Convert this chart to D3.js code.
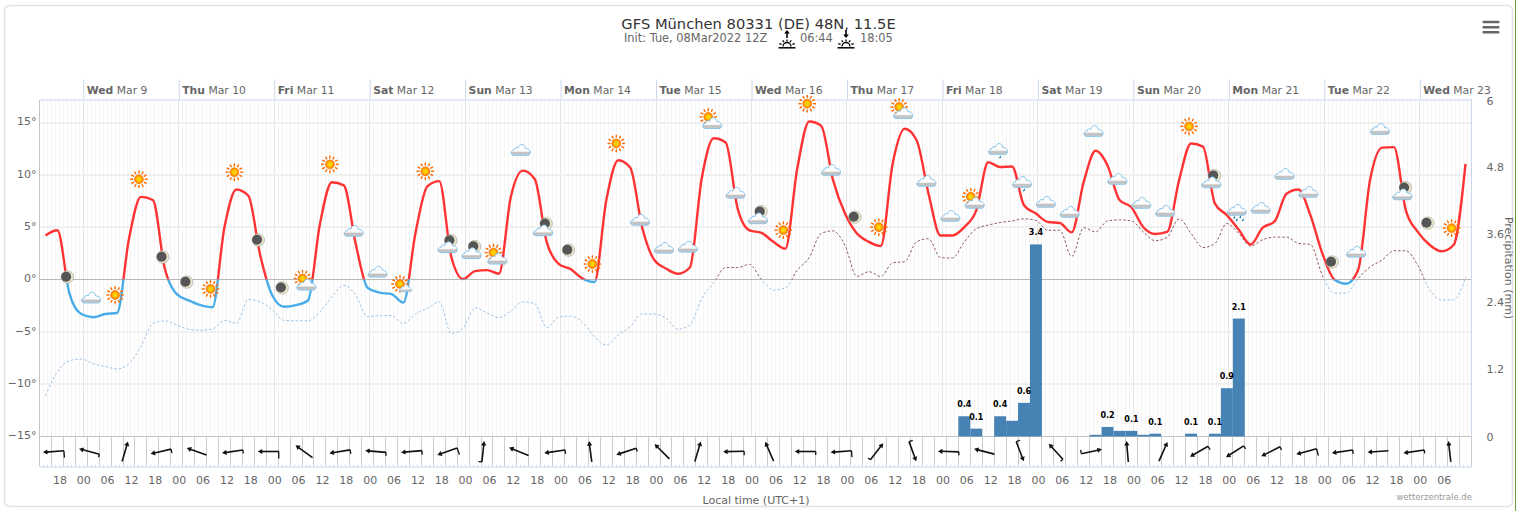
<!DOCTYPE html>
<html>
<head>
<meta charset="utf-8">
<title>GFS München</title>
<script src="https://cdn.jsdelivr.net/npm/d3@7"></script>
<style>
  html, body { margin: 0; padding: 0; background: #fff; }
  svg { display: block; }
  text { font-family: "DejaVu Sans", sans-serif; }
</style>
</head>
<body>
<div id="chart"></div>
<script>
// values, one per 3h step, first step is Mar 8 14:30
const firstHour = -9.5;
const stepHours = 3;

const temperature = [
  4.2, 4.7, -1.3, -3.3, -3.6, -3.3, -3.2, 3.9, 7.9, 7.6,
  1.05, -1.4, -2.0, -2.45, -2.65, 5.0, 8.6, 8.0, 2.3, -1.5,
  -2.6, -2.45, -2.0, 5.3, 9.3, 9.0, 3.4, -0.8, -1.25, -1.4,
  -2.2, 4.4, 8.9, 9.4, 2.2, 0.05, 0.8, 0.9, 0.55, 7.9,
  10.4, 9.6, 3.6, 1.5, 1.0, 0.1, -0.25, 7.6, 11.4, 10.7,
  5.0, 1.9, 1.05, 0.55, 1.15, 9.7, 13.5, 13.1, 6.8, 4.7,
  4.45, 3.6, 2.95, 10.6, 15.1, 14.7, 9.5, 6.3, 4.4, 3.6,
  3.2, 11.1, 14.4, 13.3, 8.2, 4.2, 4.2, 5.0, 6.6, 11.2,
  10.75, 10.8, 7.1, 6.3, 5.5, 5.4, 4.5, 9.3, 12.3, 10.9,
  7.6, 6.9, 5.0, 4.35, 4.55, 9.5, 13.0, 12.7, 7.25, 6.15,
  4.75, 3.35, 4.95, 5.55, 8.2, 8.6, 6.15, 2.5, 0, -0.4,
  0.9, 9.5, 12.6, 12.65, 6.6, 4.55, 3.3, 2.7, 3.3, 11.05
];

const dewPoint = [
  -11.1, -8.8, -7.75, -7.6, -8.05, -8.3, -8.55, -8.05, -6.4, -4.2,
  -3.95, -4.35, -4.75, -4.85, -4.75, -3.9, -4.2, -1.9, -2.15, -2.9,
  -3.9, -3.95, -3.95, -3.1, -1.65, -0.55, -1.5, -3.55, -3.45, -3.45,
  -4.2, -3.3, -2.75, -2.15, -5.15, -4.65, -2.7, -3.2, -3.65, -3.0,
  -2.15, -2.3, -4.6, -3.6, -3.5, -4.05, -5.45, -6.25, -5.3, -4.5,
  -3.3, -3.3, -3.7, -4.75, -4.35, -1.8, -0.3, 1.15, 1.15, 1.45,
  0, -1.0, -0.8, 0.9, 2.1, 4.4, 4.65, 3.25, 0.3, 0.75,
  0.3, 1.6, 1.7, 3.6, 3.9, 2.1, 2.05, 3.6, 4.85, 5.2,
  5.45, 5.6, 5.8, 5.65, 4.7, 4.7, 2.2, 4.95, 4.55, 5.6,
  5.7, 5.6, 4.55, 3.7, 4.05, 5.8, 4.4, 3.05, 3.45, 5.35,
  4.4, 3.2, 3.8, 4.05, 4.05, 3.45, 3.35, 0.4, -1.3, -1.3,
  0.1, 1.2, 1.85, 2.75, 2.75, 1.35, -1.0, -1.95, -1.95, 0.2
];

// precipitation in mm, only the steps that have some
const precipStep = [77, 78, 80, 81, 82, 83, 88, 89, 90, 91, 92, 93, 96, 98, 99, 100];
const precipValue = [0.36, 0.14, 0.36, 0.28, 0.6, 3.42, 0.03, 0.17, 0.1, 0.1, 0.03, 0.05, 0.05, 0.05, 0.86, 2.1];
const precipLabel = ["0.4", "0.1", "0.4", "", "0.6", "3.4", "", "0.2", "", "0.1", "", "0.1", "0.1", "0.1", "0.9", "2.1"];

// weather symbols every 6h, level is the temperature they hang at
const symbolFirstHour = -4;
const symbolStepHours = 6;
const symbolKind = [
  "moon", "cloud", "sun", "sun", "moon", "moon", "sun", "sun", "moon", "moon",
  "suncloud", "sun", "cloud", "cloud", "sunsmall", "sun", "mooncloud", "mooncloud", "suncloud", "cloud",
  "mooncloud", "moon", "sun", "sun", "cloud", "cloud", "cloud", "suncloud", "cloud", "mooncloud",
  "sun", "sun", "cloud", "moon", "sun", "suncloud", "cloud", "cloud", "suncloud", "drizzle",
  "drizzle", "cloud", "cloud", "cloud", "cloud", "cloud", "cloud", "sun", "mooncloud", "rain",
  "cloud", "cloud", "cloud", "moon", "cloud", "cloud", "mooncloud", "moon", "sun"
];
const symbolLevel = [
  0.24, -1.76, -1.48, 9.58, 2.14, -0.24, -0.9, 10.25, 3.77, -0.8,
  -0.24, 11.0, 4.62, 0.71, -0.52, 10.34, 3.29, 2.72, 2.24, 12.35,
  4.9, 2.81, 1.48, 13.0, 5.67, 3.0, 3.1, 15.2, 8.25, 6.05,
  4.72, 16.8, 10.44, 5.96, 5.0, 16.15, 9.39, 6.05, 7.58, 12.44,
  9.29, 7.39, 6.43, 14.16, 9.58, 7.29, 6.53, 14.63, 9.49, 6.53,
  6.82, 10.06, 8.34, 1.67, 2.62, 14.35, 8.34, 5.39, 4.91
];

// wind arrows every 9h, compass direction the arrow points to and barb length
const windFirstHour = -7.5;
const windStepHours = 9;
const windDirection = [
  265.5, 285, 16, 257, 290, 261.5, 270, 306, 261, 275,
  265, 250, 6, 292, 261.5, 352.5, 251.6, 315, 16.4, 269,
  336.7, 270, 265.5, 37.6, 160, 272, 284.5, 159, 317.6, 78,
  355, 23.7, 240, 237.6, 243, 255, 261.5, 266, 261.5, 353.5
];
const windBarb = [
  7, 3, 0, 4, 0, 3.5, 7, 0, 4, 3.5,
  4, 7, 3.5, 0, 4, 0, 3.5, 0, 0, 4,
  0, 3.5, 6.5, 3, 4, 3.5, 0, 4, 3, 4,
  0, 0, 4, 3.5, 3.5, 7, 4, 0, 3.5, 0
];

const dayTicks = [0, 24, 48, 72, 96, 120, 144, 168, 192, 216, 240, 264, 288, 312, 336];
const dayNames = ["Wed", "Thu", "Fri", "Sat", "Sun", "Mon", "Tue", "Wed", "Thu", "Fri", "Sat", "Sun", "Mon", "Tue", "Wed"];
const dayDates = ["Mar 9", "Mar 10", "Mar 11", "Mar 12", "Mar 13", "Mar 14", "Mar 15", "Mar 16", "Mar 17", "Mar 18", "Mar 19", "Mar 20", "Mar 21", "Mar 22", "Mar 23"];
const tempTicks = [15, 10, 5, 0, -5, -10, -15];
const precipTicks = [0, 1.2, 2.4, 3.6, 4.8, 6];

const width = 1516, height = 511;
const plot = {left: 39.5, right: 1471.5, top: 99.5, bottom: 436.5, windBottom: 466.5};

const x = d3.scaleLinear().domain([-11, 349]).range([plot.left, plot.right]);
const yTemp = d3.scaleLinear().domain([-15, 17.2]).range([plot.bottom, plot.top]);
const yPrecip = d3.scaleLinear().domain([0, 6]).range([plot.bottom, plot.top]);
const stepToX = i => x(firstHour + i * stepHours);

const svg = d3.select("#chart").append("svg")
  .attr("width", width)
  .attr("height", height);

const defs = svg.append("defs");

// frame
svg.append("rect").attr("x", 4.5).attr("y", 5.5).attr("width", 1508).attr("height", 501).attr("rx", 5)
  .attr("fill", "#fff").attr("stroke", "#e2e2e2").attr("stroke-width", 1.5);
svg.append("rect").attr("x", 1515).attr("y", 0).attr("width", 1).attr("height", height).attr("fill", "#6a9a3a");

// hamburger menu
[22, 27.3, 32.3].forEach(y => {
  svg.append("rect").attr("x", 1482.5).attr("y", y - 1.3).attr("width", 17).attr("height", 2.6).attr("rx", 1).attr("fill", "#666");
});

// title
svg.append("text").attr("x", 758.5).attr("y", 29).attr("text-anchor", "middle")
  .attr("font-size", 14.7).attr("fill", "#333").text("GFS München 80331 (DE) 48N, 11.5E");
svg.append("text").attr("x", 624).attr("y", 42).attr("font-size", 11.4).attr("fill", "#666").text("Init: Tue, 08Mar2022 12Z");
svg.append("text").attr("x", 800).attr("y", 42).attr("font-size", 11.4).attr("fill", "#666").text("06:44");
svg.append("text").attr("x", 860).attr("y", 42).attr("font-size", 11.4).attr("fill", "#666").text("18:05");

function sunriseIcon(cx, up) {
  const g = svg.append("g").attr("transform", `translate(${cx},48)`).attr("fill", "none").attr("stroke", "#000");
  g.append("path").attr("d", "M-8.5,-0.2H8.5").attr("stroke-width", 1.5);
  g.append("path").attr("d", "M-4,-1.5A4,4 0 0 1 4,-1.5").attr("stroke-width", 1.3);
  [-65, -30, 0, 30, 65].forEach(a => {
    const s = Math.sin(a * Math.PI / 180), c = Math.cos(a * Math.PI / 180);
    g.append("path").attr("d", `M${s * 6},${-1.5 - c * 5}L${s * 8.5},${-1.5 - c * 7}`).attr("stroke-width", 1.3);
  });
  g.append("path").attr("d", up ? "M0,-10V-15" : "M0,-18V-13").attr("stroke-width", 1.6);
  g.append("path").attr("d", up ? "M-2.8,-14.5L0,-18L2.8,-14.5Z" : "M-2.8,-13.5L0,-10L2.8,-13.5Z").attr("fill", "#000").attr("stroke", "none");
}
sunriseIcon(787, true);
sunriseIcon(846, false);

// grid
const grid = svg.append("g").attr("shape-rendering", "crispEdges");
grid.selectAll(".minor").data(d3.range(-11, 350)).enter().append("line")
  .attr("x1", d => x(d)).attr("x2", d => x(d))
  .attr("y1", plot.top).attr("y2", plot.bottom)
  .attr("stroke", "#f4f4f4");
grid.selectAll(".major").data(dayTicks).enter().append("line")
  .attr("x1", d => x(d)).attr("x2", d => x(d))
  .attr("y1", plot.top).attr("y2", plot.bottom)
  .attr("stroke", "#e4e4e4");
grid.selectAll(".horizontal").data(tempTicks.filter(d => d !== 0 && d !== -15)).enter().append("line")
  .attr("x1", plot.left).attr("x2", plot.right)
  .attr("y1", d => yTemp(d)).attr("y2", d => yTemp(d))
  .attr("stroke", "#f0f0f0").attr("stroke-width", 2);
grid.append("line").attr("x1", plot.left).attr("x2", plot.right)
  .attr("y1", yTemp(0)).attr("y2", yTemp(0)).attr("stroke", "#b8b8b8");

// wind pane lines
grid.selectAll(".wind").data(d3.range(-11, 350, 3)).enter().append("line")
  .attr("x1", d => x(d)).attr("x2", d => x(d))
  .attr("y1", plot.bottom).attr("y2", plot.windBottom)
  .attr("stroke", "#cccccc");
grid.append("line").attr("x1", plot.left).attr("x2", plot.right)
  .attr("y1", plot.bottom).attr("y2", plot.bottom).attr("stroke", "#c4c4c4");
grid.append("line").attr("x1", plot.left).attr("x2", plot.left)
  .attr("y1", plot.top).attr("y2", plot.windBottom).attr("stroke", "#c4c4c4");
grid.append("line").attr("x1", plot.right).attr("x2", plot.right)
  .attr("y1", plot.top).attr("y2", plot.bottom).attr("stroke", "#ccd6eb");

// bottom axis, labels every 6h and a small tick every hour
const hourLabels = d3.range(-6, 343, 6);
const axisBottom = d3.axisBottom(x).tickValues(hourLabels).tickSize(0).tickPadding(10)
  .tickFormat(d => String(((d % 24) + 24) % 24).padStart(2, "0"));
const axisB = svg.append("g").attr("transform", `translate(0,${plot.windBottom})`).call(axisBottom);
axisB.select(".domain").attr("stroke", "#ccd6eb");
axisB.selectAll("text").attr("font-size", 11).attr("fill", "#666").attr("font-family", null);
grid.selectAll(".hour").data(d3.range(-11, 350)).enter().append("line")
  .attr("x1", d => x(d)).attr("x2", d => x(d))
  .attr("y1", plot.windBottom - 2).attr("y2", plot.windBottom)
  .attr("stroke", "#ccd6eb");

// top axis with the days
const axisTop = d3.axisTop(x).tickValues(dayTicks).tickSizeInner(20).tickSizeOuter(0).tickFormat("");
const axisT = svg.append("g").attr("transform", `translate(0,${plot.top})`).call(axisTop);
axisT.select(".domain").attr("stroke", "#ccd6eb");
axisT.selectAll("line").attr("stroke", "#ccd6eb");
const dayText = svg.selectAll(".day").data(dayTicks).enter().append("text")
  .attr("x", d => x(d) + 3.5).attr("y", 94)
  .attr("font-size", 10.8).attr("fill", "#666");
dayText.append("tspan").attr("font-weight", "bold").text((d, i) => dayNames[i]);
dayText.append("tspan").text((d, i) => " " + dayDates[i]);

// y axes
const axisL = svg.append("g").attr("transform", `translate(${plot.left},0)`)
  .call(d3.axisLeft(yTemp).tickValues(tempTicks).tickSize(0).tickPadding(3)
    .tickFormat(d => (d < 0 ? "\u2212" + (-d) : d) + "\u00b0"));
axisL.select(".domain").remove();
axisL.selectAll("text").attr("font-size", 11).attr("fill", "#666").attr("font-family", null).attr("dy", "0.2em");

const axisR = svg.append("g").attr("transform", `translate(${plot.right},0)`)
  .call(d3.axisRight(yPrecip).tickValues(precipTicks).tickSize(0).tickPadding(15)
    .tickFormat(d => String(d)));
axisR.select(".domain").remove();
axisR.selectAll("text").attr("font-size", 11).attr("fill", "#666").attr("font-family", null);
axisR.selectAll("text").filter(d => d === 6).attr("dy", "0.45em");

svg.append("text").attr("transform", "translate(1505,268) rotate(90)").attr("text-anchor", "middle")
  .attr("font-size", 11).attr("fill", "#666").text("Precipitation (mm)");
svg.append("text").attr("x", 756).attr("y", 504).attr("text-anchor", "middle")
  .attr("font-size", 11).attr("fill", "#666").text("Local time (UTC+1)");
svg.append("text").attr("x", 1472).attr("y", 500).attr("text-anchor", "end")
  .attr("font-size", 8.5).attr("fill", "#999").text("wetterzentrale.de");

// precipitation bars
const barWidth = x(stepHours) - x(0);
svg.append("g").selectAll("rect").data(precipStep).enter().append("rect")
  .attr("x", d => stepToX(d) - barWidth / 2)
  .attr("width", barWidth)
  .attr("y", (d, i) => yPrecip(precipValue[i]))
  .attr("height", (d, i) => plot.bottom - yPrecip(precipValue[i]))
  .attr("fill", "#4682b4");

// clip above and below zero so the lines change colour there
defs.append("clipPath").attr("id", "above").append("rect")
  .attr("x", 0).attr("y", 0).attr("width", width).attr("height", yTemp(0));
defs.append("clipPath").attr("id", "below").append("rect")
  .attr("x", 0).attr("y", yTemp(0)).attr("width", width).attr("height", height);

const line = d3.line()
  .x((d, i) => stepToX(i))
  .y(d => yTemp(d))
  .curve(d3.curveMonotoneX);

function drawSeries(values, above, below, strokeWidth, dash) {
  [["above", above], ["below", below]].forEach(([clip, color]) => {
    svg.append("path").datum(values)
      .attr("d", line)
      .attr("fill", "none")
      .attr("stroke", color)
      .attr("stroke-width", strokeWidth)
      .attr("stroke-dasharray", dash)
      .attr("stroke-linejoin", "round")
      .attr("clip-path", `url(#${clip})`);
  });
}
drawSeries(dewPoint, "#8f5a5a", "#9cc0e6", 1, "2.5,2");
drawSeries(temperature, "#ff3333", "#48ace8", 2.4, null);

// bar labels, above the lines
svg.append("g").selectAll("text").data(precipStep).enter().append("text")
  .attr("x", d => stepToX(d))
  .attr("y", (d, i) => yPrecip(precipValue[i]) - 9)
  .attr("text-anchor", "middle")
  .attr("font-size", 8).attr("font-weight", "bold").attr("fill", "#000")
  .text((d, i) => precipLabel[i]);

// symbol definitions
const sunGrad = defs.append("radialGradient").attr("id", "sunFill");
sunGrad.append("stop").attr("offset", "0%").attr("stop-color", "#ffe600");
sunGrad.append("stop").attr("offset", "45%").attr("stop-color", "#ffc400");
sunGrad.append("stop").attr("offset", "100%").attr("stop-color", "#ff7a00");
const cloudGrad = defs.append("linearGradient").attr("id", "cloudFill").attr("x1", 0).attr("x2", 0).attr("y1", 0).attr("y2", 1);
cloudGrad.append("stop").attr("offset", "0%").attr("stop-color", "#ffffff");
cloudGrad.append("stop").attr("offset", "62%").attr("stop-color", "#fbfbfb");
cloudGrad.append("stop").attr("offset", "76%").attr("stop-color", "#bdbdbd");
cloudGrad.append("stop").attr("offset", "100%").attr("stop-color", "#cfcfcf");

function drawSun(g, cx, cy, scale) {
  const s = g.append("g").attr("transform", `translate(${cx},${cy}) scale(${scale})`);
  d3.range(0, 360, 30).forEach(a => {
    const sn = Math.sin(a * Math.PI / 180), cs = Math.cos(a * Math.PI / 180);
    s.append("line").attr("x1", sn * 5.8).attr("y1", cs * 5.8).attr("x2", sn * 8.8).attr("y2", cs * 8.8)
      .attr("stroke", "#ff6a00").attr("stroke-width", 1.4);
  });
  s.append("circle").attr("r", 4.4).attr("fill", "url(#sunFill)").attr("stroke", "#ff7a00").attr("stroke-width", 0.8);
}
function drawMoon(g, cx, cy) {
  const s = g.append("g").attr("transform", `translate(${cx},${cy})`);
  s.append("circle").attr("r", 6.2).attr("fill", "#ece8cf").attr("stroke", "#a8a898").attr("stroke-width", 0.7);
  s.append("circle").attr("cx", -1.2).attr("cy", -0.3).attr("r", 5).attr("fill", "#555555");
}
function drawCloud(g, cx, cy, scale) {
  g.append("path")
    .attr("transform", `translate(${cx},${cy}) scale(${scale})`)
    .attr("d", "M-7,5C-10.6,5 -10.6,0 -6.6,-0.3C-6.6,-2.6 -4,-3 -2.8,-2.2C-1.8,-7 4,-7 4.6,-1.8C5.6,-2.2 9.8,-1 9.4,2.4C9.2,4.2 8.2,5 7,5Z")
    .attr("fill", "url(#cloudFill)")
    .attr("stroke", "#85c4ea").attr("stroke-width", 1);
}
function drawDrop(g, cx, cy) {
  g.append("path").attr("transform", `translate(${cx},${cy})`)
    .attr("d", "M1,-1.6L-1,0.6A1,1 0 0 0 0.6,1.2Z").attr("fill", "#1070a8");
}

const symbols = svg.append("g").selectAll("g").data(symbolKind).enter().append("g")
  .attr("transform", (d, i) => `translate(${x(symbolFirstHour + i * symbolStepHours)},${yTemp(symbolLevel[i])})`);
symbols.each(function(kind) {
  const g = d3.select(this);
  if (kind === "sun") drawSun(g, 0, 0, 1);
  if (kind === "moon") drawMoon(g, 0, 0);
  if (kind === "cloud") drawCloud(g, 0, 0, 1);
  if (kind === "suncloud") { drawSun(g, -3.5, -3.5, 1); drawCloud(g, 0.5, 3, 1); }
  if (kind === "sunsmall") { drawSun(g, -1.5, -1, 1); drawCloud(g, 4, 3.5, 0.65); }
  if (kind === "mooncloud") { drawMoon(g, 1.5, -4.5); drawCloud(g, -1.5, 2.5, 1); }
  if (kind === "drizzle") { drawCloud(g, 0, 0, 1); drawDrop(g, 2, 7.5); }
  if (kind === "rain") {
    drawCloud(g, 0, -1, 1);
    drawDrop(g, -2.5, 6); drawDrop(g, 3.5, 5.5); drawDrop(g, 0, 8.5); drawDrop(g, 6, 8.5);
  }
});

// wind arrows, rotated about their middle, barb on the left side of the tail
const arrowHalf = 10.5, windY = (plot.bottom + plot.windBottom) / 2;
const arrows = svg.append("g").selectAll("g").data(windDirection).enter().append("g")
  .attr("transform", (d, i) => `translate(${x(windFirstHour + i * windStepHours)},${windY}) rotate(${d})`);
arrows.append("path")
  .attr("d", `M0,${arrowHalf}V${-arrowHalf + 3}`)
  .attr("stroke", "#111").attr("stroke-width", 1.6).attr("fill", "none");
arrows.append("path")
  .attr("d", `M-2.6,${-arrowHalf + 4.5}L0,${-arrowHalf}L2.6,${-arrowHalf + 4.5}Z`)
  .attr("fill", "#111");
arrows.append("path")
  .attr("d", (d, i) => `M0,${arrowHalf}h${-windBarb[i]}`)
  .attr("stroke", "#111").attr("stroke-width", 1.3);
</script>
</body>
</html>
